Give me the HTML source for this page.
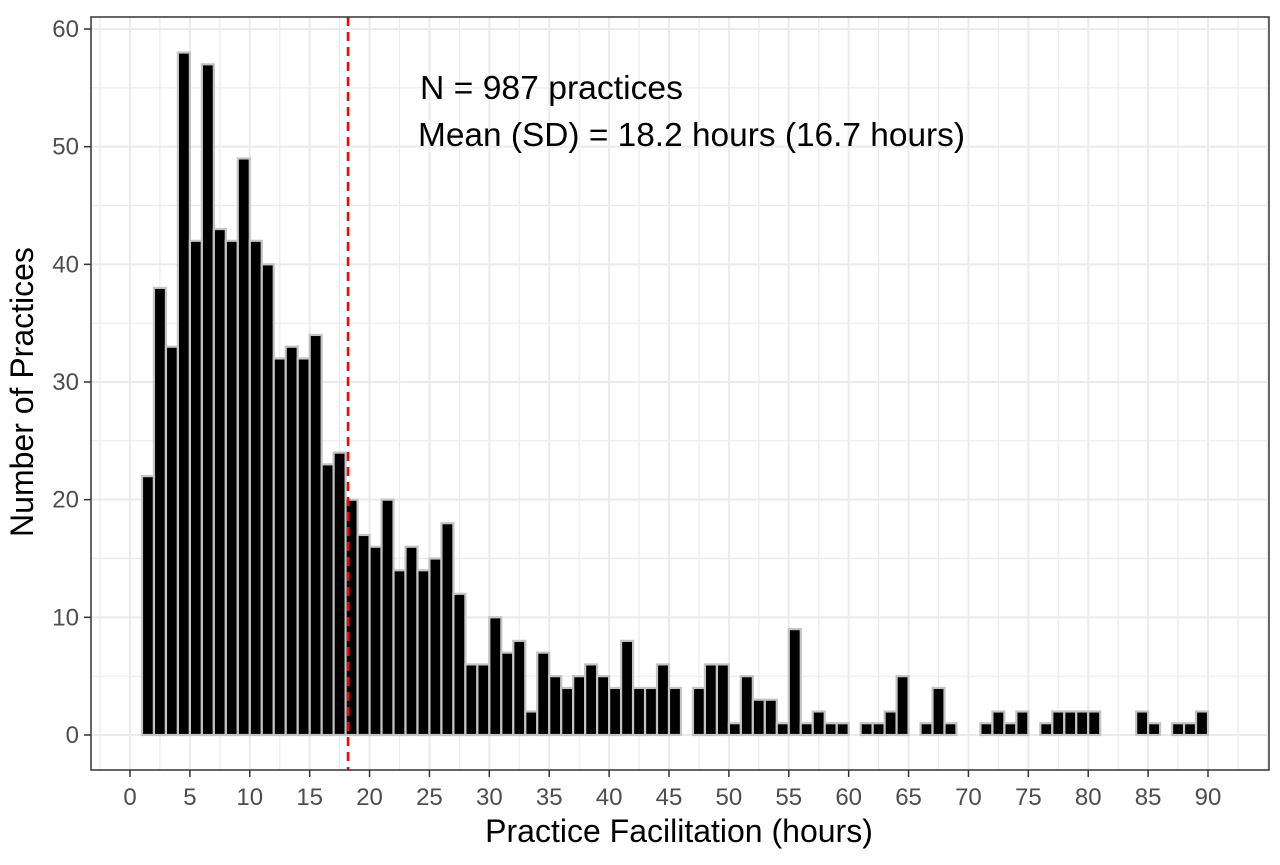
<!DOCTYPE html>
<html><head><meta charset="utf-8"><style>
html,body{margin:0;padding:0;background:#fff;}
svg{display:block;font-family:"Liberation Sans",Arial,sans-serif;}
</style></head><body>
<svg id="chart" width="1280" height="865">
<rect x="0" y="0" width="1280" height="865" fill="#fff"/>
<g id="grid"></g>
<g id="bars"></g>
<g id="axes"></g>
<text x="420" y="99" font-size="26" fill="#000" textLength="263" lengthAdjust="spacingAndGlyphs" style="font-size:33px">N = 987 practices</text>
<text x="418" y="146" fill="#000" textLength="547" lengthAdjust="spacingAndGlyphs" style="font-size:33px">Mean (SD) = 18.2 hours (16.7 hours)</text>
<text x="679" y="842" text-anchor="middle" fill="#000" style="font-size:32px">Practice Facilitation (hours)</text>
<text transform="translate(33,392) rotate(-90)" text-anchor="middle" fill="#000" style="font-size:32px">Number of Practices</text>
</svg>
<script>
const binStarts = [];
for (let i = 1; i <= 89; i++) binStarts.push(i);
const counts = [22,38,33,58,42,57,43,42,49,42,40,32,33,32,34,23,24,20,17,16,20,14,16,14,15,18,12,6,6,10,7,8,2,7,5,4,5,6,5,4,8,4,4,6,4,0,4,6,6,1,5,3,3,1,9,1,2,1,1,0,1,1,2,5,0,1,4,1,0,0,1,2,1,2,0,1,2,2,2,2,0,0,0,2,1,0,1,1,2];
const xTicks = [0,5,10,15,20,25,30,35,40,45,50,55,60,65,70,75,80,85,90];
const yTicks = [0,10,20,30,40,50,60];
const meanValue = 18.2;

const NS = "http://www.w3.org/2000/svg";
const P = {l:91, r:1269, t:17, b:770};
const xs = v => 130 + v * (1208 - 130) / 90;
const ys = v => 735 - v * (735 - 29) / 60;
function mk(tag, attrs, parent) {
  const e = document.createElementNS(NS, tag);
  for (const k in attrs) e.setAttribute(k, attrs[k]);
  parent.appendChild(e);
  return e;
}
const grid = document.getElementById('grid');
const bars = document.getElementById('bars');
const axes = document.getElementById('axes');

for (let v = -2.5; v <= 95; v += 2.5) {
  const x = xs(v);
  if (x <= P.l || x >= P.r) continue;
  const g = mk('line', {x1:x, x2:x, y1:P.t, y2:P.b, stroke:'#ebebeb', 'stroke-width': (v % 5 === 0) ? 2 : 1.2}, grid);
  
  
}
for (let v = -5; v <= 65; v += 5) {
  const y = ys(v);
  if (y <= P.t || y >= P.b) continue;
  const g = mk('line', {x1:P.l, x2:P.r, y1:y, y2:y, stroke:'#ebebeb', 'stroke-width': (v % 10 === 0) ? 2 : 1.2}, grid);
  
  
}

binStarts.forEach((s, i) => {
  const c = counts[i];
  const x0 = xs(s), x1 = xs(s + 1);
  const r = mk('rect', {x:x0, y:ys(c), width:x1 - x0, height:ys(0) - ys(c), fill:'#000', stroke:'#c4c4c4', 'stroke-width':2.2}, bars);
  
  
});

const ml = mk('line', {x1:xs(meanValue), x2:xs(meanValue), y1:P.t, y2:P.b, stroke:'#ff0000', 'stroke-width':2.5, 'stroke-dasharray':'9,6'}, axes);



const frame = mk('rect', {x:P.l, y:P.t, width:P.r - P.l, height:P.b - P.t, fill:'none', stroke:'#333', 'stroke-width':1.5}, axes);



xTicks.forEach(v => {
  const x = xs(v);
  const t = mk('line', {x1:x, x2:x, y1:P.b, y2:P.b + 7, stroke:'#333', 'stroke-width':1.5}, axes);
  
  
  const l = mk('text', {x:x, y:P.b + 35, 'text-anchor':'middle', fill:'#4d4d4d', style:'font-size:24px'}, axes);
  l.textContent = v;
  
  
});
yTicks.forEach(v => {
  const y = ys(v);
  const t = mk('line', {x1:P.l - 7, x2:P.l, y1:y, y2:y, stroke:'#333', 'stroke-width':1.5}, axes);
  
  
  const l = mk('text', {x:P.l - 12, y:y + 8, 'text-anchor':'end', fill:'#4d4d4d', style:'font-size:24px'}, axes);
  l.textContent = v;
  
  
});
</script>
</body></html>
